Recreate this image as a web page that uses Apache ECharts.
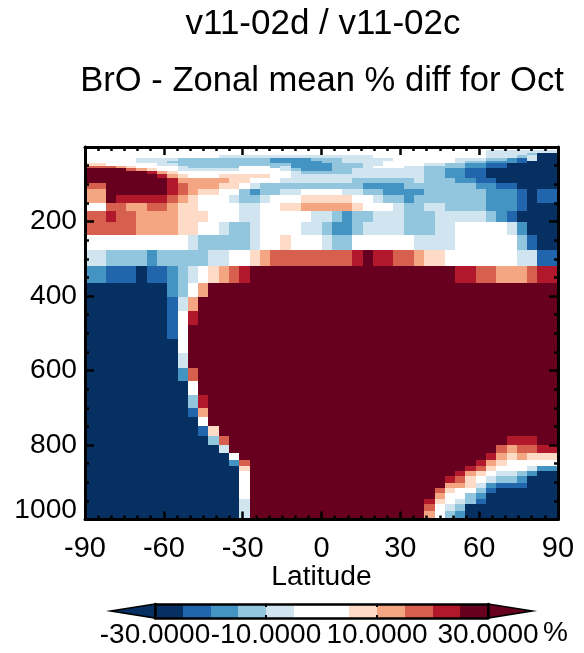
<!DOCTYPE html>
<html><head><meta charset="utf-8">
<style>html,body{margin:0;padding:0;background:#fff}#c{width:584px;height:653px}</style>
<script src="https://cdn.jsdelivr.net/npm/echarts@6/dist/echarts.min.js"></script>
</head><body><div id="c"></div>
<script>
// colour-bar classes: percent difference
const levels = [-30,-25,-20,-15,-10,-5,0,5,10,15,20,25,30];
const colors = ['#053061','#2166ac','#4393c3','#92c5de','#d1e5f0','#ffffff','#ffffff','#fddbc7','#f4a582','#d6604d','#b2182b','#67001f'];
const classValues = {a:-35,b:-22.5,c:-17.5,d:-12.5,e:-7.5,w:0,f:7.5,g:12.5,h:17.5,i:22.5,j:35};
const colCount = 46;
const latTicks = [-90,-60,-30,0,30,60,90];
const cbarLabels = ['-30.0000','-10.0000','10.0000','30.0000'];
// pressure level edges, hPa, top to bottom
const pressureEdges = [0,8,15,21.5,29.6,36.3,43,51,56.5,63.8,72.6,83.4,96.9,113,129,150.7,172,202,237,277,320,366,403.5,441,479,516.5,554,592,629.5,667,699.5,724,748,775,799,820.5,839,855.5,869,882.5,901,915,929.5,944,958,977,1000];
// each level: run-length coded class per latitude column, south to north
const levelRows = [
'w46',
'w39e7',
'w39e4d1a2',
'w13e15w11e3d1e1a2',
'w5e4d9c4d3e5w6e3d2c1b1e1a2',
'w5e3d10c5d2e4w7e1d2c3b1a3',
'f2w5e2d11c4d3e2w4e2d2c2b2a5',
'h3g1f1w4e1d5w3d1e1c4d3e1w3e2d4c2b2a5',
'j4h1g1f1w2e6w4e1d1c3d2e7d2c2b2a7',
'j6i1g1f1w11e1d5e7d2c2b2a7',
'j7i1g1f1w3f5w2e13d2c2b2a7',
'j8i1g5f2w3e7d6e1d3c2b2a6',
'h2j6i1h1g3f2w1e1d10c4d7c2b2a4',
'g2j6i1h1g1f2w2d1c1d2e2w4e2d2c4d6c3b1a1b2',
'g2j1i5h1g1f1w3e1d2e1w3f5w2e1d2c1d7c3b1a1b2',
'w2h2g2h2g1f2w4e2w2f2g5f1w3e1d2e2d4c3b1a3',
'h2i1h2g4f3w3e2w5e2d1c1d2e3d3e5d1c1b1a4',
'h5g4f2w2e1d2e1w4e2d1c2d1e4d3e2w5e1c1a3',
'w10e1d5e1w2f1w3e1d2w6e4w6d1b1a2',
'e2d4c1d5e2w2f1g1h8i1j1i2h2g1f2w7e2b2',
'c2b3a1b2c1d1e1w1f1g1h1i1j20i2h2g3h1i2',
'a8c1d1w1g1j34',
'a8b1e1g1j35',
'a8b1w1i1j35',
'a8b1w1j36',
'a9w1j36',
'a9e1j36',
'a9c1h1j35',
'a10w1j35',
'a10d1i1j34',
'a10b1g1j34',
'a11w1j34',
'a11b1f1j33',
'a12d1h1j27i3j2',
'a13e1j26h1g1h2i2',
'a14w1j24i1g1f1g1f3',
'a14c1h1j22i1g1f1w5',
'a15f1j21i1h1f1w3e1c2',
'a15w1j20i1g1f1w1e2d1c1a2',
'a15w1j19i1h1f1w1e1d2c1a3',
'a15w1j19g2f1e1c1b3a3',
'a15w1j18h1f1w2d1b1a6',
'a15w1j18g1w2d1c1a7',
'a15e1j17i1f1w1e1d1b1a7',
'a15e1j17h1w1e1d1a9',
'a15e1j17g1w1d1c1a9'
];

function colorOf(v){
  for(let i=0;i<colors.length;i++){ if(v<levels[i+1]) return colors[i]; }
  return colors[colors.length-1];
}
const cells=[];
levelRows.forEach((row,r)=>{
  let k=0;
  row.match(/[a-z]\d+/g).forEach(run=>{
    const n=+run.slice(1), v=classValues[run[0]];
    for(let i=0;i<n;i++,k++){
      cells.push([-90+k*180/colCount,-90+(k+1)*180/colCount,pressureEdges[r],pressureEdges[r+1],v]);
    }
  });
  if(k!==colCount) throw new Error('row '+r+' has '+k);
});
const cbarCells=[];
for(let i=0;i<colors.length;i++) cbarCells.push([levels[i],levels[i+1],colors[i]]);
// arrow tips of the colour bar, in percent
const cbarArrows=[[-30,-38,colors[0]],[30,38,colors[11]]];

const FONT='Liberation Sans';
const black='#000';
const chart=echarts.init(document.getElementById('c'),null,{renderer:'canvas'});
const latCommon={min:-90,max:90,interval:30,gridIndex:0,z:10,
  axisLine:{show:true,onZero:false,lineStyle:{color:black,width:3}},
  splitLine:{show:false},
  axisTick:{show:true,inside:true,length:8,lineStyle:{color:black,width:2.5}},
  minorTick:{show:true,splitNumber:6,length:4,lineStyle:{color:black,width:2.5}}};
const presCommon={inverse:true,min:0,max:1000,interval:200,gridIndex:0,z:10,
  axisLine:{show:true,onZero:false,lineStyle:{color:black,width:3}},
  splitLine:{show:false},
  axisTick:{show:true,inside:true,length:9,lineStyle:{color:black,width:2.5}},
  minorTick:{show:true,splitNumber:4,length:4,lineStyle:{color:black,width:2.5}}};
chart.setOption({
  animation:false,
  backgroundColor:'#fff',
  textStyle:{fontFamily:FONT},
  title:[
    {text:'v11-02d / v11-02c',left:318,top:2,textAlign:'center',textStyle:{fontFamily:FONT,fontSize:35,fontWeight:'normal',color:black}},
    {text:'BrO - Zonal mean % diff for Oct',left:317,top:59,textAlign:'center',textStyle:{fontFamily:FONT,fontSize:34.6,fontWeight:'normal',color:black}}
  ],
  grid:[
    {left:85,top:147,width:473,height:372.5,containLabel:false},
    {left:155,top:604,width:333,height:14,containLabel:false}
  ],
  xAxis:[
    Object.assign({},latCommon,{type:'value',position:'bottom',
      name:'Latitude',nameLocation:'middle',nameGap:44,nameMoveOverlap:false,nameTextStyle:{fontFamily:FONT,fontSize:28.2,color:black},
      axisLabel:{show:true,color:black,fontFamily:FONT,fontSize:29,margin:15,showMinLabel:true,showMaxLabel:true,formatter:v=>latTicks.includes(v)?String(v):''}}),
    Object.assign({},latCommon,{type:'value',position:'top',axisLabel:{show:false}}),
    {type:'value',gridIndex:1,min:-30,max:30,interval:20,position:'bottom',z:10,
      axisLine:{show:true,onZero:false,lineStyle:{color:black,width:2.5}},splitLine:{show:false},
      axisTick:{show:true,inside:true,length:3,lineStyle:{color:black,width:2}},
      axisLabel:{show:true,color:black,fontFamily:FONT,fontSize:28,margin:3,hideOverlap:false,showMinLabel:true,showMaxLabel:true,
        formatter:v=>cbarLabels[(v+30)/20]}},
    {type:'value',gridIndex:1,min:-30,max:30,interval:20,position:'top',z:10,
      axisLine:{show:true,onZero:false,lineStyle:{color:black,width:2.5}},splitLine:{show:false},
      axisTick:{show:true,inside:true,length:3,lineStyle:{color:black,width:2}},axisLabel:{show:false}}
  ],
  yAxis:[
    Object.assign({},presCommon,{type:'value',position:'left',
      axisLabel:{show:true,color:black,fontFamily:FONT,fontSize:28.2,margin:8,showMinLabel:true,showMaxLabel:true,
        formatter:v=>v===0?'':(v===1000?'{up|1000}':String(v)),
        rich:{up:{fontFamily:FONT,fontSize:28.2,color:black,padding:[0,0,18,0]}}}}),
    Object.assign({},presCommon,{type:'value',position:'right',axisLabel:{show:false}}),
    {type:'value',gridIndex:1,min:0,max:1,position:'left',z:10,axisLine:{show:true,onZero:false,lineStyle:{color:black,width:2.5}},axisTick:{show:false},axisLabel:{show:false},splitLine:{show:false}},
    {type:'value',gridIndex:1,min:0,max:1,position:'right',z:10,axisLine:{show:true,onZero:false,lineStyle:{color:black,width:2.5}},axisTick:{show:false},axisLabel:{show:false},splitLine:{show:false}}
  ],
  series:[
    {type:'custom',xAxisIndex:0,yAxisIndex:0,coordinateSystem:'cartesian2d',silent:true,clip:true,
      data:cells,encode:{x:[0,1],y:[2,3]},
      renderItem(params,api){
        const a=api.coord([api.value(0),api.value(2)]), b=api.coord([api.value(1),api.value(3)]);
        const x0=Math.round(a[0]),x1=Math.round(b[0]),y0=Math.round(a[1]),y1=Math.round(b[1]);
        return {type:'rect',shape:{x:x0,y:y0,width:x1-x0,height:y1-y0},style:{fill:colorOf(api.value(4))}};
      }},
    {type:'custom',xAxisIndex:2,yAxisIndex:2,coordinateSystem:'cartesian2d',silent:true,
      data:cbarCells,encode:{x:[0,1]},
      renderItem(params,api){
        const a=api.coord([api.value(0),1]), b=api.coord([api.value(1),0]);
        const x0=Math.round(a[0]),x1=Math.round(b[0]);
        return {type:'rect',shape:{x:x0,y:a[1],width:x1-x0,height:b[1]-a[1]},style:{fill:cbarCells[params.dataIndex][2]}};
      }},
    {type:'custom',xAxisIndex:2,yAxisIndex:2,coordinateSystem:'cartesian2d',silent:true,
      data:cbarArrows.map(d=>[d[0],d[1]]),encode:{x:[0,1]},
      renderItem(params,api){
        const t=api.coord([api.value(0),1]), b=api.coord([api.value(0),0]), tip=api.coord([api.value(1),0.5]);
        return {type:'polygon',shape:{points:[t,tip,b]},style:{fill:cbarArrows[params.dataIndex][2],stroke:black,lineWidth:1.5}};
      }}
  ],
  graphic:[{type:'text',left:543,top:619,style:{text:'%',fontFamily:FONT,fontSize:28,fill:black}}]
});
</script></body></html>
